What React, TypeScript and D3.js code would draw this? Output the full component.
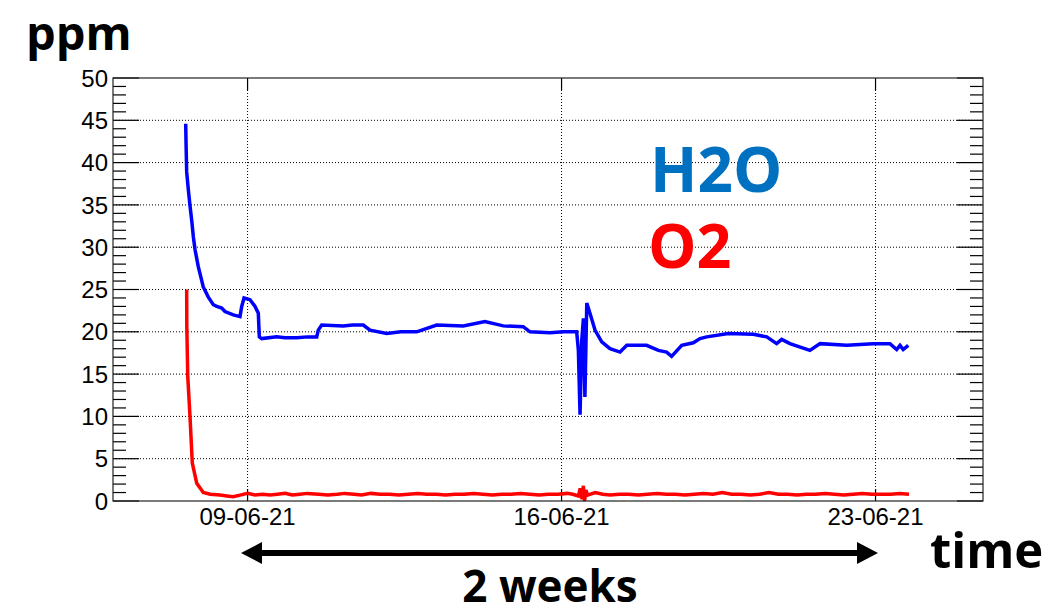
import React from "react";
import * as d3 from "d3";

// H2O readings (ppm) over the logging period
const h2oTimes: string[] = [
  "2021-06-07T14:54", "2021-06-07T15:05", "2021-06-07T15:25", "2021-06-07T16:18",
  "2021-06-07T17:12", "2021-06-07T18:06", "2021-06-07T19:00", "2021-06-07T19:54",
  "2021-06-07T21:38", "2021-06-08T00:18", "2021-06-08T03:00", "2021-06-08T05:40",
  "2021-06-08T07:30", "2021-06-08T10:10", "2021-06-08T11:55", "2021-06-08T16:22",
  "2021-06-08T19:57", "2021-06-08T20:52", "2021-06-08T22:06", "2021-06-09T01:18",
  "2021-06-09T04:00", "2021-06-09T05:45", "2021-06-09T06:17", "2021-06-09T07:34",
  "2021-06-09T15:36", "2021-06-09T20:00", "2021-06-10T02:18", "2021-06-10T08:00",
  "2021-06-10T13:00", "2021-06-10T13:50", "2021-06-10T15:40", "2021-06-11T03:14",
  "2021-06-11T08:00", "2021-06-11T13:56", "2021-06-11T17:30", "2021-06-12T02:26",
  "2021-06-12T10:00", "2021-06-12T18:30", "2021-06-13T05:12", "2021-06-13T19:24",
  "2021-06-14T07:00", "2021-06-14T16:48", "2021-06-15T03:30", "2021-06-15T07:06",
  "2021-06-15T17:48", "2021-06-16T00:54", "2021-06-16T08:06", "2021-06-16T09:00",
  "2021-06-16T09:54", "2021-06-16T10:48", "2021-06-16T11:42", "2021-06-16T12:30",
  "2021-06-16T13:30", "2021-06-16T15:12", "2021-06-16T17:54", "2021-06-16T21:30",
  "2021-06-17T01:54", "2021-06-17T07:18", "2021-06-17T10:54", "2021-06-17T21:30",
  "2021-06-18T03:48", "2021-06-18T08:12", "2021-06-18T10:54", "2021-06-18T16:18",
  "2021-06-18T22:30", "2021-06-19T02:06", "2021-06-19T05:42", "2021-06-19T17:12",
  "2021-06-20T06:36", "2021-06-20T13:48", "2021-06-20T19:06", "2021-06-20T21:48",
  "2021-06-21T02:12", "2021-06-21T12:54", "2021-06-21T18:18", "2021-06-22T08:36",
  "2021-06-22T22:48", "2021-06-23T07:42", "2021-06-23T11:18", "2021-06-23T13:06",
  "2021-06-23T14:48", "2021-06-23T17:30",
];
const h2oValues: number[] = [
  44.6, 42.3, 38.9, 36.8,
  34.9, 33.2, 31.2, 29.7,
  27.7, 25.3, 24.1, 23.2,
  23.0, 22.8, 22.4, 22.0,
  21.8, 23.0, 24.0, 23.8,
  23.0, 22.2, 19.4, 19.2,
  19.4, 19.3, 19.3, 19.4,
  19.4, 20.2, 20.8, 20.7,
  20.8, 20.8, 20.2, 19.8,
  20.0, 20.0, 20.8, 20.7,
  21.2, 20.7, 20.6, 20.0,
  19.9, 20.0, 20.0, 17.8,
  10.2, 19.0, 21.6, 12.3,
  23.4, 22.2, 20.2, 18.8,
  18.0, 17.6, 18.4, 18.4,
  17.8, 17.6, 17.1, 18.4,
  18.7, 19.2, 19.4, 19.8,
  19.7, 19.4, 18.6, 19.1,
  18.6, 17.8, 18.6, 18.4,
  18.6, 18.6, 17.9, 18.4,
  17.9, 18.4,
];

// O2 readings (ppm)
const o2Times: string[] = [
  "2021-06-07T15:25", "2021-06-07T15:30", "2021-06-07T16:00", "2021-06-07T17:12",
  "2021-06-07T18:25", "2021-06-07T20:48", "2021-06-08T00:18", "2021-06-08T04:00",
  "2021-06-08T09:12", "2021-06-08T13:00", "2021-06-08T16:22", "2021-06-08T20:00",
  "2021-06-09T00:00", "2021-06-09T04:00", "2021-06-09T08:00", "2021-06-09T12:00",
  "2021-06-09T16:00", "2021-06-09T20:00", "2021-06-10T00:00", "2021-06-10T04:00",
  "2021-06-10T08:00", "2021-06-10T14:00", "2021-06-10T19:00", "2021-06-11T00:00",
  "2021-06-11T04:00", "2021-06-11T09:00", "2021-06-11T13:00", "2021-06-11T18:00",
  "2021-06-11T23:00", "2021-06-12T04:00", "2021-06-12T09:00", "2021-06-12T14:00",
  "2021-06-12T19:00", "2021-06-13T00:00", "2021-06-13T05:00", "2021-06-13T10:00",
  "2021-06-13T15:00", "2021-06-13T20:00", "2021-06-14T01:00", "2021-06-14T06:00",
  "2021-06-14T11:00", "2021-06-14T16:00", "2021-06-14T21:00", "2021-06-15T02:00",
  "2021-06-15T07:00", "2021-06-15T12:00", "2021-06-15T17:00", "2021-06-15T22:00",
  "2021-06-16T03:00", "2021-06-16T06:00", "2021-06-16T09:00", "2021-06-16T10:00",
  "2021-06-16T11:00", "2021-06-16T11:40", "2021-06-16T12:20", "2021-06-16T13:00",
  "2021-06-16T14:00", "2021-06-16T18:00", "2021-06-16T22:00", "2021-06-17T02:00",
  "2021-06-17T07:00", "2021-06-17T12:00", "2021-06-17T17:00", "2021-06-17T22:00",
  "2021-06-18T03:00", "2021-06-18T08:00", "2021-06-18T13:00", "2021-06-18T18:00",
  "2021-06-18T23:00", "2021-06-19T04:00", "2021-06-19T09:00", "2021-06-19T14:00",
  "2021-06-19T19:00", "2021-06-20T00:00", "2021-06-20T05:00", "2021-06-20T10:00",
  "2021-06-20T15:00", "2021-06-20T20:00", "2021-06-21T01:00", "2021-06-21T06:00",
  "2021-06-21T11:00", "2021-06-21T16:00", "2021-06-21T21:00", "2021-06-22T02:00",
  "2021-06-22T07:00", "2021-06-22T12:00", "2021-06-22T17:00", "2021-06-22T22:00",
  "2021-06-23T03:00", "2021-06-23T08:00", "2021-06-23T13:00", "2021-06-23T17:54",
];
const o2Values: number[] = [
  25.0, 20.6, 14.7, 10.0,
  4.5, 2.1, 1.0, 0.8,
  0.7, 0.6, 0.5, 0.7,
  0.9, 0.7, 0.8, 0.7,
  0.8, 0.9, 0.7, 0.8,
  0.9, 0.8, 0.7, 0.8,
  0.9, 0.8, 0.7, 0.9,
  0.8, 0.8, 0.7, 0.8,
  0.9, 0.8, 0.8, 0.7,
  0.8, 0.8, 0.9, 0.8,
  0.7, 0.8, 0.8, 0.9,
  0.8, 0.7, 0.8, 0.8,
  0.9, 0.8, 0.6, 1.5,
  0.2, 1.8, 0.0, 1.3,
  0.7, 1.0, 0.8, 0.7,
  0.8, 0.8, 0.7, 0.8,
  0.9, 0.8, 0.8, 0.7,
  0.8, 0.9, 0.8, 1.0,
  0.8, 0.8, 0.7, 0.8,
  1.0, 0.8, 0.8, 0.7,
  0.8, 0.8, 0.9, 0.8,
  0.7, 0.8, 0.9, 0.8,
  0.8, 0.8, 0.9, 0.8,
];

const xTickDates: string[] = ["2021-06-09T00:00", "2021-06-16T00:00", "2021-06-23T00:00"];
const xTickLabels: string[] = ["09-06-21", "16-06-21", "23-06-21"];
const yMajorTicks: number[] = [0, 5, 10, 15, 20, 25, 30, 35, 40, 45, 50];

const W = 1061;
const H = 616;
const plot = { left: 113, right: 983, top: 78, bottom: 501 };

const parse = (s: string) => new Date(s);

export default function App() {
  const x = d3
    .scaleTime()
    .domain([parse("2021-06-06T00:00"), parse("2021-06-25T09:30")])
    .range([plot.left, plot.right]);
  const y = d3.scaleLinear().domain([0, 50]).range([plot.bottom, plot.top]);

  const h2o = h2oTimes.map((t, i) => ({ t: parse(t), v: h2oValues[i] }));
  const o2 = o2Times.map((t, i) => ({ t: parse(t), v: o2Values[i] }));

  const line = d3
    .line<{ t: Date; v: number }>()
    .x((d) => x(d.t))
    .y((d) => y(Math.max(d.v, 0)));

  const minorTicks = d3.range(0, 51, 1).filter((v) => v % 5 !== 0);
  const axisFont = "'Liberation Sans', Arial, sans-serif";
  const boldFont = "'Open Sans', 'Noto Sans', sans-serif";

  const arrowY = 553;
  const arrowL = 241;
  const arrowR = 878;
  const head = 21;
  const halfHead = 11;

  return (
    <div style={{ position: "fixed", left: 0, top: 0 }}>
      <svg width={W} height={H} style={{ display: "block", background: "#fff" }}>
        {/* dotted grid */}
        <g stroke="#000" strokeWidth={1} strokeDasharray="1,2">
          {yMajorTicks
            .filter((v) => v > 0 && v < 50)
            .map((v) => (
              <line key={"gy" + v} x1={plot.left} x2={plot.right} y1={y(v)} y2={y(v)} />
            ))}
          {xTickDates.map((d) => (
            <line key={"gx" + d} x1={x(parse(d))} x2={x(parse(d))} y1={plot.top} y2={plot.bottom} />
          ))}
        </g>

        {/* ticks on both sides */}
        <g stroke="#000" strokeWidth={1.2}>
          {yMajorTicks.map((v) => (
            <g key={"ty" + v}>
              <line x1={plot.left} x2={plot.left + 26} y1={y(v)} y2={y(v)} />
              <line x1={plot.right - 26} x2={plot.right} y1={y(v)} y2={y(v)} />
            </g>
          ))}
          {minorTicks.map((v) => (
            <g key={"tm" + v}>
              <line x1={plot.left} x2={plot.left + 13} y1={y(v)} y2={y(v)} />
              <line x1={plot.right - 13} x2={plot.right} y1={y(v)} y2={y(v)} />
            </g>
          ))}
          {xTickDates.map((d) => (
            <g key={"tx" + d}>
              <line x1={x(parse(d))} x2={x(parse(d))} y1={plot.top} y2={plot.top + 12} />
              <line x1={x(parse(d))} x2={x(parse(d))} y1={plot.bottom - 12} y2={plot.bottom} />
            </g>
          ))}
        </g>

        {/* data */}
        <path d={line(o2) ?? ""} fill="none" stroke="#ff0000" strokeWidth={3.5} />
        <path d={line(h2o) ?? ""} fill="none" stroke="#0000ff" strokeWidth={3.5} />

        {/* frame */}
        <rect
          x={plot.left}
          y={plot.top}
          width={plot.right - plot.left}
          height={plot.bottom - plot.top}
          fill="none"
          stroke="#222"
          strokeWidth={1.2}
        />

        {/* axis labels */}
        <g fontFamily={axisFont} fontSize={24} fill="#000">
          {yMajorTicks.map((v) => (
            <text key={"ly" + v} x={plot.left - 5} y={y(v)} dy="0.36em" textAnchor="end">
              {v}
            </text>
          ))}
          {xTickDates.map((d, i) => (
            <text key={"lx" + d} x={x(parse(d))} y={525} textAnchor="middle">
              {xTickLabels[i]}
            </text>
          ))}
        </g>

        {/* annotations */}
        <g fontFamily={boldFont} fontWeight="bold">
          <text x={26} y={50} fontSize={47} fill="#000">ppm</text>
          <text x={650} y={192} fontSize={62} fill="#0070c0">H2O</text>
          <text x={648} y={268} fontSize={61} fill="#ff0000">O2</text>
          <text x={930} y={568} fontSize={49} fill="#000">time</text>
          <text x={550} y={602} fontSize={44} fill="#000" textAnchor="middle">2 weeks</text>
        </g>

        {/* two-week span arrow */}
        <line x1={arrowL + head} x2={arrowR - head} y1={arrowY} y2={arrowY} stroke="#000" strokeWidth={6} />
        <polygon
          points={`${arrowL},${arrowY} ${arrowL + head},${arrowY - halfHead} ${arrowL + head},${arrowY + halfHead}`}
          fill="#000"
        />
        <polygon
          points={`${arrowR},${arrowY} ${arrowR - head},${arrowY - halfHead} ${arrowR - head},${arrowY + halfHead}`}
          fill="#000"
        />
      </svg>
    </div>
  );
}
